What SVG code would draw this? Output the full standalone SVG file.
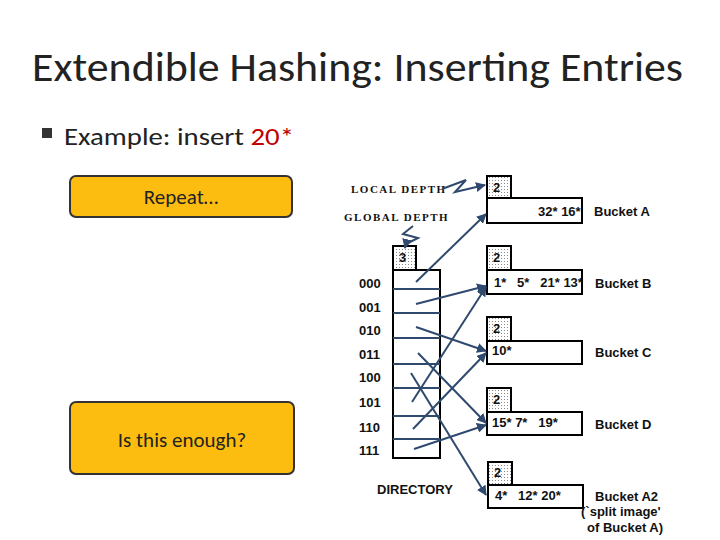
<svg xmlns="http://www.w3.org/2000/svg" width="720" height="540" viewBox="0 0 720 540">
<defs>
<pattern id="dots" width="3" height="3" patternUnits="userSpaceOnUse"><rect width="3" height="3" fill="#fff"/><rect width="1" height="1" fill="#888"/></pattern>
<marker id="ah" viewBox="0 0 10 10" refX="9" refY="5" markerWidth="5" markerHeight="5" orient="auto"><path d="M0,0L10,5L0,10z" fill="#2f4a6e"/></marker>
</defs>
<style>
.cal{font-family:Calibri,Carlito,"Open Sans",sans-serif;fill:#222}
.ar{font-family:"Liberation Sans",Arial,sans-serif;font-size:13px;font-weight:bold;fill:#111;white-space:pre}
.ser{font-family:"Liberation Serif",serif;font-size:11px;font-weight:bold;letter-spacing:1.5px;fill:#111}
.b{fill:#fff;stroke:#000;stroke-width:2}
.d{fill:url(#dots);stroke:#000;stroke-width:2}
.c path,.c line{stroke:#2f4a6e;stroke-width:2;fill:none}
.y{fill:#fdbd10;stroke:#333;stroke-width:2}
</style>
<rect width="720" height="540" fill="#fff"/>
<text class="cal" x="32" y="81" font-size="40" textLength="651" lengthAdjust="spacingAndGlyphs">Extendible Hashing: Inserting Entries</text>
<rect x="42" y="128" width="10" height="10" fill="#333"/>
<text class="cal" x="64" y="145" font-size="25" textLength="230" lengthAdjust="spacingAndGlyphs">Example: insert <tspan fill="#c00000">20*</tspan></text>
<g id="repeat"><rect class="y" x="70" y="176" width="222" height="41" rx="6"/><text class="cal" x="181" y="204" font-size="21" text-anchor="middle">Repeat…</text></g>
<g id="enough"><rect class="y" x="70" y="402" width="224" height="72" rx="6"/><text class="cal" x="182" y="447" font-size="21" text-anchor="middle">Is this enough?</text></g>
<text class="ser" x="351" y="193">LOCAL DEPTH</text>
<text class="ser" x="344" y="221">GLOBAL DEPTH</text>
<g id="directory">
<rect class="d" x="393" y="246" width="23" height="24"/><text class="ar" x="399" y="262">3</text>
<rect class="b" x="393" y="270" width="47" height="188"/>
<g stroke="#2f4a6e" stroke-width="2"><line x1="393" y1="289" x2="440" y2="289"/><line x1="393" y1="313" x2="440" y2="313"/><line x1="393" y1="338" x2="440" y2="338"/><line x1="393" y1="364" x2="440" y2="364"/><line x1="393" y1="388" x2="440" y2="388"/><line x1="393" y1="416" x2="440" y2="416"/><line x1="393" y1="439" x2="440" y2="439"/></g>
<g class="ar"><text x="359" y="288">000</text><text x="359" y="312">001</text><text x="359" y="335">010</text><text x="359" y="359">011</text><text x="359" y="382">100</text><text x="359" y="407">101</text><text x="359" y="432">110</text><text x="359" y="455">111</text></g>
<text class="ar" x="377" y="494">DIRECTORY</text>
</g>
<g id="bucketA"><rect class="d" x="487" y="176" width="24" height="22"/><text class="ar" x="493" y="192">2</text><rect class="b" x="487" y="198" width="95" height="25"/><text class="ar" x="538" y="216">32* 16*</text><text class="ar" x="594" y="216">Bucket A</text></g>
<g id="bucketB"><rect class="d" x="487" y="246" width="24" height="24"/><text class="ar" x="493" y="262">2</text><rect class="b" x="487" y="270" width="95" height="24"/><text class="ar" x="494" y="287" xml:space="preserve">1*   5*   21* 13*</text><text class="ar" x="595" y="288">Bucket B</text></g>
<g id="bucketC"><rect class="d" x="487" y="317" width="24" height="24"/><text class="ar" x="493" y="333">2</text><rect class="b" x="487" y="341" width="95" height="23"/><text class="ar" x="492" y="355">10*</text><text class="ar" x="595" y="357">Bucket C</text></g>
<g id="bucketD"><rect class="d" x="487" y="388" width="24" height="24"/><text class="ar" x="493" y="404">2</text><rect class="b" x="487" y="412" width="95" height="23"/><text class="ar" x="492" y="427" xml:space="preserve">15* 7*   19*</text><text class="ar" x="595" y="429">Bucket D</text></g>
<g id="bucketA2"><rect class="d" x="488" y="462" width="24" height="23"/><text class="ar" x="494" y="477">2</text><rect class="b" x="488" y="485" width="95" height="23"/><text class="ar" x="495" y="500" xml:space="preserve">4*   12* 20*</text><text class="ar" x="595" y="501">Bucket A2</text><text class="ar" x="581" y="516">(`split image'</text><text class="ar" x="587" y="532">of Bucket A)</text></g>
<g class="c" id="connectors">
<path d="M442,189L466,180L455,192L485,185" marker-end="url(#ah)"/>
<path d="M413,226L403,234L418,238L406,244L405,248" marker-end="url(#ah)"/>
<path d="M416,282L486,214" marker-end="url(#ah)"/>
<path d="M416,304L486,286" marker-end="url(#ah)"/>
<path d="M416,327L486,351" marker-end="url(#ah)"/>
<path d="M418,353L486,423" marker-end="url(#ah)"/>
<path d="M411,373L486,495" marker-end="url(#ah)"/>
<path d="M412,402L486,287" marker-end="url(#ah)"/>
<path d="M413,429L486,353" marker-end="url(#ah)"/>
<path d="M414,449L486,425" marker-end="url(#ah)"/>
</g>
</svg>
